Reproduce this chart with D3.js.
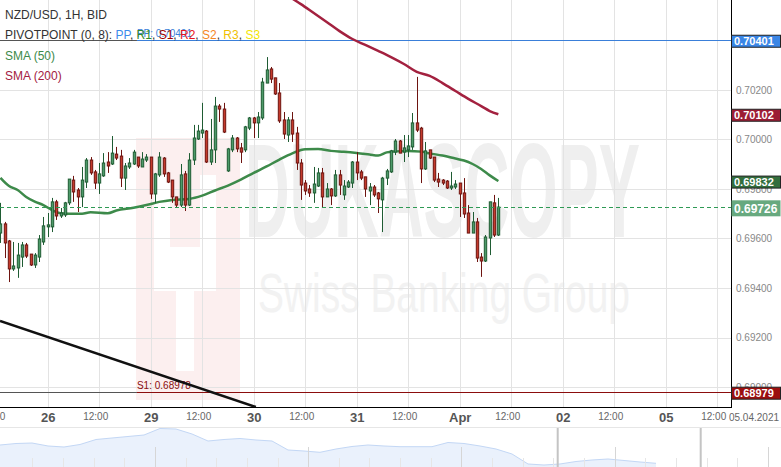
<!DOCTYPE html>
<html><head><meta charset="utf-8">
<script src="https://cdn.jsdelivr.net/npm/d3@7"></script>
<style>body{margin:0;background:#fff}svg{display:block;font-family:"Liberation Sans",Arial,sans-serif}</style>
</head><body><svg id="c" width="781" height="467"></svg>
<script>
// ---------- DATA ----------
const firstIndex = -11; // hourly candle index, 0 = 26 Mar 00:00
const opens = [0.69622,0.69659,0.69590,0.69477,0.69481,0.69525,0.69574,0.69537,0.69493,0.69525,0.69586,
0.69647,0.69647,0.69748,0.69691,0.69695,0.69744,0.69836,0.69796,0.69768,0.69828,0.69917,0.69869,0.69824,0.69853,0.69909,0.69901,0.69941,0.69933,0.69844,0.69889,0.69901,0.69929,0.69889,0.69917,
0.69929,0.69780,0.69857,0.69925,0.69865,0.69836,0.69768,0.69735,0.69861,0.69735,0.69917,0.70002,0.70026,0.70034,0.69909,0.69958,0.70135,0.70123,0.69873,0.69958,0.70006,0.69966,0.69958,0.70046,
0.70087,0.70067,0.70087,0.70228,0.70285,0.70249,0.70188,0.70079,0.70018,0.70079,0.70026,0.69905,0.69824,0.69800,0.69784,0.69812,0.69865,0.69768,0.69800,0.69772,0.69857,0.69776,0.69808,0.69824,
0.69909,0.69869,0.69849,0.69792,0.69808,0.69784,0.69756,0.69844,0.69869,0.69949,0.69994,0.69949,0.69958,0.69970,0.70067,0.70046,0.69881,0.69958,0.69929,0.69840,0.69836,0.69832,0.69804,0.69808,
0.69824,0.69784,0.69703,0.69622,0.69667,0.69525,0.69509,0.69602,0.69744,0.69614];
const highs = [0.69744,0.69667,0.69594,0.69586,0.69582,0.69586,0.69582,0.69537,0.69541,0.69614,0.69687,
0.69703,0.69764,0.69756,0.69723,0.69748,0.69840,0.69853,0.69804,0.69889,0.69925,0.69929,0.69877,0.69905,0.69945,0.69949,0.70014,0.69970,0.69958,0.69905,0.69925,0.69958,0.69929,0.69949,0.69941,
0.69929,0.69865,0.69949,0.69929,0.69869,0.69836,0.69768,0.69901,0.69873,0.69945,0.70059,0.70059,0.70148,0.70038,0.70083,0.70172,0.70143,0.70148,0.69966,0.70018,0.70010,0.69986,0.70055,0.70091,
0.70091,0.70111,0.70249,0.70333,0.70293,0.70249,0.70228,0.70111,0.70091,0.70111,0.70051,0.69921,0.69836,0.69816,0.69889,0.69885,0.69885,0.69824,0.69804,0.69877,0.69877,0.69836,0.69836,0.69913,
0.69949,0.69877,0.69849,0.69824,0.69816,0.69788,0.69849,0.69881,0.69958,0.70002,0.69998,0.70018,0.70018,0.70107,0.70253,0.70051,0.69990,0.69958,0.69929,0.69865,0.69840,0.69836,0.69869,0.69836,
0.69824,0.69844,0.69735,0.69707,0.69683,0.69541,0.69614,0.69748,0.69776,0.69764];
const lows = [0.69582,0.69521,0.69424,0.69469,0.69441,0.69485,0.69521,0.69489,0.69481,0.69505,0.69574,
0.69606,0.69626,0.69675,0.69683,0.69687,0.69735,0.69748,0.69707,0.69727,0.69804,0.69857,0.69800,0.69780,0.69849,0.69865,0.69897,0.69917,0.69808,0.69796,0.69881,0.69897,0.69885,0.69889,0.69909,
0.69760,0.69744,0.69849,0.69849,0.69824,0.69744,0.69727,0.69727,0.69711,0.69731,0.69897,0.69998,0.70006,0.69905,0.69897,0.69905,0.70071,0.70026,0.69869,0.69949,0.69949,0.69905,0.69949,0.70038,
0.70006,0.70006,0.70079,0.70228,0.70228,0.70180,0.70067,0.70002,0.69990,0.69990,0.69877,0.69756,0.69776,0.69768,0.69744,0.69808,0.69727,0.69768,0.69735,0.69768,0.69776,0.69756,0.69804,0.69804,
0.69836,0.69836,0.69768,0.69735,0.69768,0.69703,0.69626,0.69816,0.69865,0.69937,0.69945,0.69909,0.69929,0.69958,0.70030,0.69824,0.69877,0.69921,0.69828,0.69808,0.69816,0.69800,0.69796,0.69800,
0.69687,0.69683,0.69622,0.69622,0.69505,0.69445,0.69505,0.69533,0.69606,0.69610];
const closes = [0.69659,0.69582,0.69477,0.69489,0.69533,0.69574,0.69529,0.69493,0.69533,0.69598,0.69651,
0.69655,0.69748,0.69691,0.69703,0.69744,0.69840,0.69788,0.69768,0.69836,0.69917,0.69865,0.69824,0.69861,0.69905,0.69893,0.69945,0.69925,0.69844,0.69893,0.69905,0.69949,0.69893,0.69921,0.69929,
0.69780,0.69861,0.69929,0.69861,0.69828,0.69768,0.69735,0.69857,0.69735,0.69917,0.70006,0.70034,0.70038,0.69909,0.69958,0.70135,0.70123,0.70030,0.69962,0.70006,0.69962,0.69949,0.70051,0.70087,
0.70067,0.70091,0.70232,0.70281,0.70244,0.70184,0.70075,0.70022,0.70079,0.70022,0.69905,0.69816,0.69792,0.69784,0.69820,0.69865,0.69768,0.69800,0.69772,0.69857,0.69816,0.69812,0.69828,0.69909,
0.69865,0.69844,0.69800,0.69808,0.69776,0.69760,0.69844,0.69873,0.69954,0.69994,0.69945,0.69966,0.69974,0.70067,0.70038,0.69881,0.69954,0.69925,0.69836,0.69828,0.69824,0.69804,0.69812,0.69820,
0.69780,0.69699,0.69622,0.69667,0.69521,0.69509,0.69606,0.69748,0.69614,0.69727];

const sma50Index = [-11,-9,-7,-5,-3,-1,1,3,5,8,10,14,16,20,23,26,29,33,36,39,42,45,48,51,54,57,60,63,66,69,72,75,77,79,81,84,87,89,92,95,97,99,101,103,105];
const sma50Values = [0.69845,0.69812,0.69796,0.69768,0.69749,0.69735,0.69715,0.69702,0.69700,0.69700,0.69706,0.69702,0.69713,0.69724,0.69735,0.69748,0.69756,0.69760,0.69773,0.69794,0.69814,0.69838,0.69865,0.69891,0.69919,0.69944,0.69961,0.69962,0.69954,0.69950,0.69945,0.69939,0.69935,0.69948,0.69952,0.69954,0.69951,0.69944,0.69935,0.69923,0.69915,0.69901,0.69881,0.69855,0.69832];
const sma200Index = [56,59,62,65,68,71,74,77,80,83,86,89,92,95,98,101,103,105];
const sma200Values = [0.70580,0.70547,0.70511,0.70475,0.70438,0.70406,0.70382,0.70358,0.70333,0.70305,0.70273,0.70257,0.70228,0.70196,0.70164,0.70135,0.70115,0.70102];

const trendIndex = [-11.1, 48.5];
const trendValues = [0.69267, 0.68919];

const pivotPP = 0.70401, pivotS1 = 0.68979, pivotS1Text = 0.68978;
const pivotStartIndex = 20.8;
const lastPrice = 0.69726, lastSma50 = 0.69832, lastSma200 = 0.70102;

const yTicks = [0.690,0.692,0.694,0.696,0.698,0.700,0.702,0.704];
const xTickIndex = [-12,0,12,24,36,48,60,72,84,96,108,120,132,144,156];
const xTickLabels = ["12:00","26","12:00","29","12:00","30","12:00","31","12:00","Apr","12:00","02","12:00","05","12:00"];
const dateLabel = "05.04.2021";

const navValues = [0.70925,0.71056,0.71100,0.70838,0.70750,0.70969,0.71406,0.71538,0.71669,0.71800,0.72369,0.72325,0.71888,0.71275,0.71406,0.71494,0.71363,0.71275,0.70488,0.70400,0.70286,0.70575,0.70794,0.70925,0.70838,0.70776,0.70776,0.70776,0.71144,0.71056,0.70838,0.70575,0.70138,0.69263,0.69175,0.69263,0.69481,0.69613,0.69700,0.69569,0.69438,0.69324];

// ---------- DRAW ----------
const svg = d3.select("#c");
const PW = 731, PH = 407;
const x = d3.scaleLinear().domain([-11.11, 159.21]).range([0, PW]);
const y = d3.scaleLinear().domain([0.689192, 0.705636]).range([PH, 0]);

svg.append("defs").append("clipPath").attr("id","clip").append("rect").attr("width",PW).attr("height",PH);

const plot = svg.append("g").attr("clip-path","url(#clip)");

// watermark logo
const wm = plot.append("g");
wm.append("rect").attr("x",136).attr("y",138).attr("width",104).attr("height",262).attr("fill","#fcefef");
wm.append("rect").attr("x",154).attr("y",175).attr("width",16).attr("height",72).attr("fill","#fff");
wm.append("rect").attr("x",154).attr("y",247).attr("width",62).attr("height",44).attr("fill","#fff");
wm.append("rect").attr("x",200).attr("y",175).attr("width",16).attr("height",72).attr("fill","#fff");
wm.append("rect").attr("x",176).attr("y",291).attr("width",18).attr("height",80).attr("fill","#fff");
wm.append("text").attr("x",245).attr("y",237).attr("font-size",134).attr("font-weight","bold")
  .attr("textLength",395).attr("lengthAdjust","spacingAndGlyphs").attr("fill","#efefef").text("DUKASCOPY");
wm.append("text").attr("x",258).attr("y",312).attr("font-size",56)
  .attr("textLength",372).attr("lengthAdjust","spacingAndGlyphs").attr("fill","#f2f2f2").text("Swiss Banking Group");

// grid
plot.selectAll(".hg").data(yTicks).join("line").attr("x1",0).attr("x2",PW)
  .attr("y1",d=>Math.round(y(d))+0.5).attr("y2",d=>Math.round(y(d))+0.5).attr("stroke","#e3e3e3");
plot.selectAll(".vg").data(xTickIndex).join("line").attr("y1",0).attr("y2",PH)
  .attr("x1",d=>Math.round(x(d))+0.5).attr("x2",d=>Math.round(x(d))+0.5).attr("stroke","#e3e3e3");

// pivot lines
function pivotLine(v, col){
  const yy = Math.round(y(v))+0.5;
  plot.append("line").attr("x1",0).attr("x2",x(pivotStartIndex)).attr("y1",yy).attr("y2",yy).attr("stroke","#555");
  plot.append("line").attr("x1",x(pivotStartIndex)).attr("x2",PW).attr("y1",yy).attr("y2",yy).attr("stroke",col);
}
pivotLine(pivotPP, "#3a7fd9");
pivotLine(pivotS1, "#8b0d0d");
plot.append("text").attr("x",x(pivotStartIndex)).attr("y",y(pivotPP)-3).attr("font-size",10).attr("fill","#3a7fd9").text("PP: "+pivotPP.toFixed(5));
plot.append("text").attr("x",x(pivotStartIndex)).attr("y",y(pivotS1)-3).attr("font-size",10).attr("fill","#8b0d0d").text("S1: "+pivotS1Text.toFixed(5));

// trendline
plot.append("line").attr("x1",x(trendIndex[0])).attr("y1",y(trendValues[0])).attr("x2",x(trendIndex[1])).attr("y2",y(trendValues[1]))
  .attr("stroke","#111").attr("stroke-width",2.5);

// SMAs
const line = d3.line().curve(d3.curveMonotoneX);
plot.append("path").attr("d", line(sma50Index.map((d,i)=>[x(d),y(sma50Values[i])])))
  .attr("fill","none").attr("stroke","#3d8a4a").attr("stroke-width",2.5);
plot.append("path").attr("d", line(sma200Index.map((d,i)=>[x(d),y(sma200Values[i])])))
  .attr("fill","none").attr("stroke","#a3213f").attr("stroke-width",2.5);

// candles
const candles = opens.map((o,i)=>({i:firstIndex+i,o,h:highs[i],l:lows[i],c:closes[i]}));
const cg = plot.append("g");
candles.forEach(d=>{
  const up = d.c >= d.o;
  const cx = Math.round(x(d.i))+0.5;
  cg.append("line").attr("x1",cx).attr("x2",cx).attr("y1",y(d.h)).attr("y2",y(d.l))
    .attr("stroke", up?"#1f5c33":"#6e1410").attr("stroke-width",1);
  const top = y(Math.max(d.o,d.c)), bot = y(Math.min(d.o,d.c));
  cg.append("rect").attr("x",cx-1.2).attr("y",top).attr("width",2.4).attr("height",Math.max(1,bot-top))
    .attr("fill", up?"#4d9a69":"#c43a2c").attr("stroke", up?"#1f5c33":"#6e1410").attr("stroke-width",1);
});

// last price dashed line
plot.append("line").attr("x1",0).attr("x2",PW).attr("y1",Math.round(y(lastPrice))+0.5).attr("y2",Math.round(y(lastPrice))+0.5)
  .attr("stroke","#2f9a55").attr("stroke-dasharray","4,3");

// legend
const lg = svg.append("g").attr("font-size",12);
lg.append("text").attr("x",5).attr("y",19).attr("fill","#333").text("NZD/USD, 1H, BID");
const pv = lg.append("text").attr("x",5).attr("y",39).attr("fill","#333");
pv.append("tspan").text("PIVOTPOINT (0, 8): ");
const pvItems = [["PP","#3b8beb"],["R1","#2e8b2e"],["S1","#a00000"],["R2","#e8141c"],["S2","#f5861f"],["R3","#f0c000"],["S3","#f5e600"]];
pvItems.forEach((p,k)=>{ pv.append("tspan").attr("fill",p[1]).text(p[0]); if(k<pvItems.length-1) pv.append("tspan").attr("fill","#333").text(", "); });
lg.append("text").attr("x",5).attr("y",60).attr("fill","#3d8a4a").text("SMA (50)");
lg.append("text").attr("x",5).attr("y",80).attr("fill","#a3213f").text("SMA (200)");

// axes
svg.append("line").attr("x1",PW+0.5).attr("x2",PW+0.5).attr("y1",0).attr("y2",PH).attr("stroke","#000");
svg.append("line").attr("x1",0).attr("x2",PW+1).attr("y1",PH+0.5).attr("y2",PH+0.5).attr("stroke","#000");

const xAxis = d3.axisBottom(x).tickValues(xTickIndex).tickSize(0).tickPadding(6)
  .tickFormat((d,i)=>xTickLabels[i]);
const xa = svg.append("g").attr("transform",`translate(0,${PH})`).call(xAxis);
xa.select(".domain").remove();
xa.selectAll("text").attr("font-family","'Liberation Sans',Arial,sans-serif")
  .attr("font-size",(d,i)=>xTickLabels[i]==="12:00"?10:13)
  .attr("font-weight",(d,i)=>xTickLabels[i]==="12:00"?"normal":"bold")
  .attr("fill",(d,i)=>xTickLabels[i]==="12:00"?"#666":"#555")
  .attr("dx",(d,i)=>xTickLabels[i]==="12:00"?-4:0);
svg.append("text").attr("x",754).attr("y",421).attr("text-anchor","middle").attr("font-size",10).attr("fill","#666").text(dateLabel);

const yAxis = d3.axisRight(y).tickValues(yTicks).tickSize(0).tickPadding(5).tickFormat(d3.format(".5f"));
const ya = svg.append("g").attr("transform",`translate(${PW},0)`).call(yAxis);
ya.select(".domain").remove();
ya.selectAll("text").attr("font-family","'Liberation Sans',Arial,sans-serif").attr("font-size",10).attr("fill","#888");

// value boxes
const boxes = [
  {v:pivotPP, fill:"#3a86e6", fs:11, h:12},
  {v:lastSma200, fill:"#9c1c34", fs:11, h:12},
  {v:lastSma50, fill:"#336e3d", fs:11, h:12},
  {v:lastPrice, fill:"#67a97f", fs:12, h:16},
  {v:pivotS1, fill:"#9b0f0f", fs:11, h:12}
];
boxes.forEach(b=>{
  const cy = y(b.v)+1;
  svg.append("rect").attr("x",PW+0.5).attr("y",cy-b.h/2).attr("width",49).attr("height",b.h)
    .attr("fill",b.fill).attr("stroke", b.fs>11?"none":"#222").attr("stroke-width",1);
  svg.append("text").attr("x",PW+3).attr("y",cy+b.fs*0.36).attr("font-size",b.fs).attr("font-weight","bold").attr("fill","#fff").text(b.v.toFixed(5));
});

// navigator
const nx = d3.scaleLinear().domain([0, navValues.length-1.5]).range([0, 648]);
const ny = d3.scaleLinear().domain([0.69, 0.725]).range([467, 427]);
svg.append("line").attr("x1",0).attr("x2",781).attr("y1",427.5).attr("y2",427.5).attr("stroke","#e6e6e6");
svg.append("path").attr("d", d3.area().x((d,i)=>nx(i)).y0(467).y1(d=>ny(d))(navValues)).attr("fill","#eaf1fc");
svg.append("path").attr("d", d3.line().x((d,i)=>nx(i)).y(d=>ny(d))(navValues)).attr("fill","none").attr("stroke","#c3d7f5");
const navTicks = d3.range(1, 26).map(k=>k*30.65+1.7);
navTicks.forEach((t,k)=>{
  const tall = (k+1)%5===0;
  svg.append("line").attr("x1",Math.round(t)+0.5).attr("x2",Math.round(t)+0.5).attr("y1",tall?447:458).attr("y2",467).attr("stroke",tall?"#d6d6d6":"#e6e6e6");
});
[557.7, 700.7].forEach(h=>svg.append("rect").attr("x",h-1).attr("y",428).attr("width",2).attr("height",39).attr("fill","#c4c4c4"));
</script></body></html>
